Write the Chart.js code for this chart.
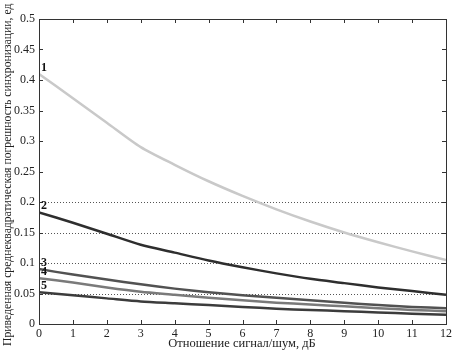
<!DOCTYPE html>
<html><head><meta charset="utf-8">
<script src="https://cdn.jsdelivr.net/npm/chart.js@4"></script>
<style>html,body{margin:0;padding:0;background:#fff}#wrap{width:452px;height:351px}</style>
</head><body><div id="wrap"><canvas id="c" width="452" height="351"></canvas></div>
<script>
const xs = [0,1,2,3,4,5,6,7,8,9,10,11,12];
const curve1 = [0.410,0.370,0.330,0.290,0.261,0.234,0.210,0.188,0.168,0.150,0.134,0.119,0.105];
const curve2 = [0.183,0.166,0.148,0.130,0.117,0.104,0.093,0.083,0.074,0.067,0.060,0.054,0.048];
const curve3 = [0.090,0.081,0.073,0.065,0.058,0.052,0.047,0.043,0.039,0.035,0.031,0.028,0.026];
const curve4 = [0.075,0.068,0.060,0.053,0.048,0.043,0.039,0.035,0.032,0.029,0.026,0.023,0.021];
const curve5 = [0.052,0.047,0.042,0.037,0.034,0.031,0.028,0.025,0.023,0.021,0.019,0.017,0.015];
const curveLabels = ['1','2','3','4','5'];
const yTicks = [0,0.05,0.1,0.15,0.2,0.25,0.3,0.35,0.4,0.45,0.5];
const gridValues = [0.05,0.1,0.15,0.2];
const xTitle = 'Отношение сигнал/шум, дБ';
const yTitle = 'Приведенная среднеквадратическая погрешность синхронизации, ед';

const series = [curve1,curve2,curve3,curve4,curve5];
const colors = ['#c9c9c9','#2e2e2e','#525252','#7a7a7a','#3c3c3c'];
const serif = '"Liberation Serif", "DejaVu Serif", serif';

const framePlugin = {
  id:'frame',
  beforeDatasetsDraw(chart){
    const {ctx, chartArea:a, scales:{x,y}} = chart;
    ctx.save();
    ctx.strokeStyle='#555'; ctx.lineWidth=1; ctx.setLineDash([1,2]);
    gridValues.forEach(v=>{
      const py=Math.round(y.getPixelForValue(v))+0.5;
      ctx.beginPath(); ctx.moveTo(a.left,py); ctx.lineTo(a.right,py); ctx.stroke();
    });
    ctx.restore();
  },
  afterDraw(chart){
    const {ctx, chartArea:a, scales:{x,y}} = chart;
    ctx.save();
    ctx.strokeStyle='#333'; ctx.lineWidth=1;
    ctx.strokeRect(Math.round(a.left)+0.5, Math.round(a.top)+0.5, Math.round(a.right-a.left), Math.round(a.bottom-a.top));
    ctx.beginPath();
    xs.forEach(v=>{
      const px=Math.round(x.getPixelForValue(v))+0.5;
      ctx.moveTo(px,a.bottom); ctx.lineTo(px,a.bottom-4);
      ctx.moveTo(px,a.top); ctx.lineTo(px,a.top+4);
    });
    yTicks.forEach(v=>{
      const py=Math.round(y.getPixelForValue(v))+0.5;
      ctx.moveTo(a.left,py); ctx.lineTo(a.left+4,py);
      ctx.moveTo(a.right,py); ctx.lineTo(a.right-4,py);
    });
    ctx.stroke();
    ctx.fillStyle='#111'; ctx.font='bold 12px '+serif; ctx.textAlign='left'; ctx.textBaseline='alphabetic';
    series.forEach((s,i)=>{
      const px=x.getPixelForValue(xs[0]);
      const py=y.getPixelForValue(s[0]);
      ctx.fillText(curveLabels[i], px+2, py-3);
    });
    ctx.fillStyle='#222'; ctx.font='12.5px '+serif;
    ctx.textAlign='center'; ctx.textBaseline='alphabetic';
    ctx.fillText(xTitle, 242, 347);
    ctx.font='11.7px '+serif;
    ctx.translate(11, 346); ctx.rotate(-Math.PI/2);
    ctx.textAlign='left'; ctx.fillText(yTitle, 0, 0);
    ctx.restore();
  }
};

new Chart(document.getElementById('c'), {
  type:'line',
  data:{ datasets: series.map((s,i)=>({
    label: curveLabels[i],
    data: xs.map((v,j)=>({x:v,y:s[j]})),
    borderColor: colors[i], borderWidth: 2.5, pointRadius:0, tension:0.25, fill:false
  }))},
  options:{
    responsive:false, animation:false, devicePixelRatio:1,
    layout:{padding:{left:0,top:19,right:6,bottom:0}},
    plugins:{legend:{display:false}, tooltip:{enabled:false}},
    scales:{
      x:{type:'linear', min:0, max:12,
         afterBuildTicks(s){ s.ticks = xs.map(v=>({value:v})); },
         afterFit(s){ s.height = 27; s.paddingRight = 0; },
         grid:{display:false, drawTicks:false}, border:{display:false},
         ticks:{color:'#222', font:{family:serif,size:12}, padding:3, maxRotation:0}
      },
      y:{type:'linear', min:0, max:0.5,
         afterBuildTicks(s){ s.ticks = yTicks.map(v=>({value:v})); },
         afterFit(s){ s.width = 39; },
         grid:{display:false, drawTicks:false}, border:{display:false},
         ticks:{color:'#222', font:{family:serif,size:12}, padding:4, callback:v=>String(+v.toFixed(2))}
      }
    }
  },
  plugins:[framePlugin]
});
</script></body></html>
